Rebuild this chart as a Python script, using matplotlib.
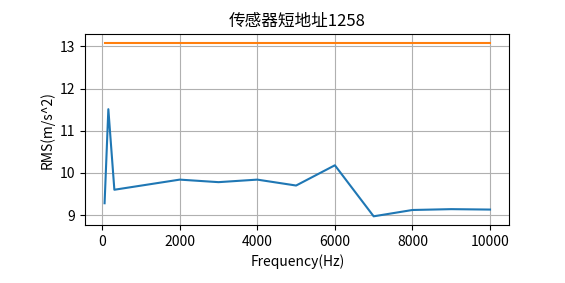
import matplotlib
matplotlib.use("Agg")
import matplotlib.pyplot as plt

plt.rcParams['font.family'] = ['Noto Sans CJK SC', 'DejaVu Sans']
plt.rcParams['axes.unicode_minus'] = False

freq = [63, 160, 315, 2000, 3000, 4000, 5000, 6000, 7000, 8000, 9000, 10000]
rms = [9.28, 11.51, 9.60, 9.84, 9.78, 9.84, 9.70, 10.18, 8.97, 9.12, 9.14, 9.13]
limit = [13.08] * len(freq)

fig = plt.figure(figsize=(5.65, 2.83), dpi=100)
ax = fig.add_axes([0.151, 0.205, 0.7504, 0.6738])
ax.plot(freq, rms)
ax.plot(freq, limit)
ax.set_title('传感器短地址1258')
ax.set_xlabel('Frequency(Hz)')
ax.set_ylabel('RMS(m/s^2)')
ax.grid(True)
fig.savefig('out.png', dpi=100)
